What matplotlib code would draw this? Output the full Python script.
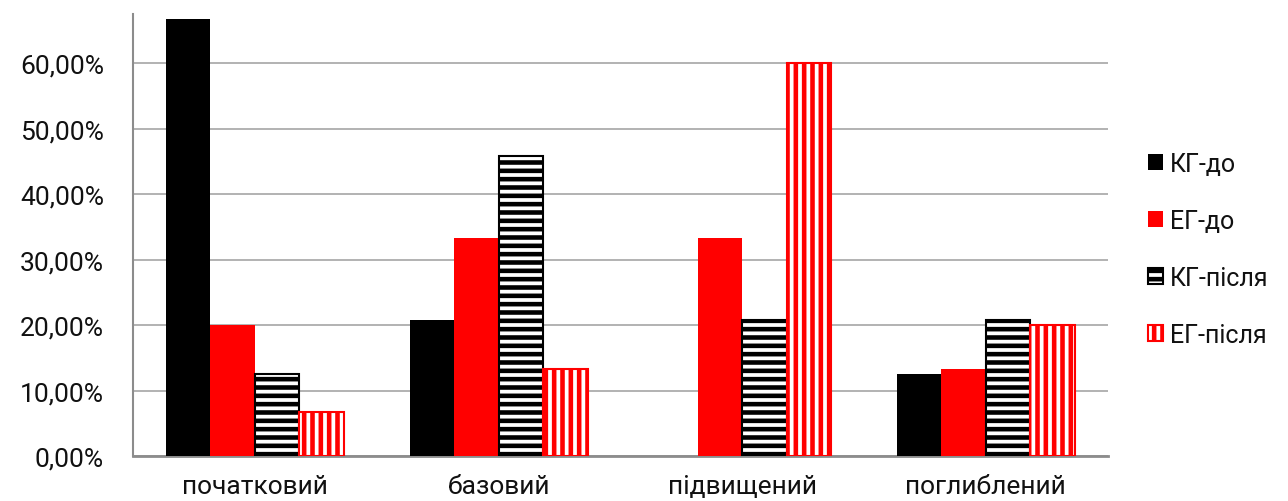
import matplotlib
matplotlib.use("Agg")
import matplotlib.pyplot as plt
import numpy as np

categories = ["початковий", "базовий", "підвищений", "поглиблений"]
series_names = ["КГ-до", "ЕГ-до", "КГ-після", "ЕГ-після"]
kg_before = [66.67, 20.83, 0.0, 12.50]
eg_before = [20.00, 33.33, 33.33, 13.33]
kg_after = [12.50, 45.83, 20.83, 20.83]
eg_after = [6.67, 13.33, 60.00, 20.00]
y_ticks = [0, 10, 20, 30, 40, 50, 60]

plt.rcParams["font.family"] = ["Roboto", "DejaVu Sans"]
plt.rcParams["hatch.linewidth"] = 3.3

fig = plt.figure(figsize=(12.88, 5.02), dpi=100)
ax = fig.add_axes([0.1033, 0.0896, 0.7567, 0.8804])

x = np.arange(len(categories))
w = 0.1826
styles = [
    dict(facecolor="black", edgecolor="black", hatch=None, linewidth=0),
    dict(facecolor="#ff0000", edgecolor="#ff0000", hatch=None, linewidth=0),
    dict(facecolor="white", edgecolor="black", hatch="--", linewidth=1.5),
    dict(facecolor="white", edgecolor="#ff0000", hatch="||", linewidth=1.5),
]
data = [kg_before, eg_before, kg_after, eg_after]
for i, (vals, st, name) in enumerate(zip(data, styles, series_names)):
    ax.bar(x + (i - 1.5) * w, vals, width=w, label=name, zorder=3, **st)

ax.set_xlim(-0.5, len(categories) - 0.5)
ax.set_ylim(0, 67.5)
ax.set_yticks(y_ticks)
ax.set_yticklabels([f"{v:.2f}%".replace(".", ",") for v in y_ticks])
ax.set_xticks(x)
ax.set_xticklabels(categories)
ax.tick_params(axis="y", length=0, pad=21, labelsize=19, labelcolor="#111111")
ax.tick_params(axis="x", length=0, pad=13, labelsize=19, labelcolor="#111111")
ax.grid(axis="y", color="#a6a6a6", linewidth=1.2, zorder=0)
for s in ["top", "right"]:
    ax.spines[s].set_visible(False)
ax.spines["left"].set_color("#8c8c8c")
ax.spines["left"].set_linewidth(1.5)
ax.spines["bottom"].set_color("#8c8c8c")
ax.spines["bottom"].set_linewidth(2)

leg = fig.legend(loc="center left", bbox_to_anchor=(0.891, 0.501), frameon=False,
                 fontsize=18, handlelength=0.6, handleheight=0.6,
                 handletextpad=0.3, labelspacing=1.32, borderpad=0,
                 borderaxespad=0)
for t in leg.get_texts():
    t.set_color("#111111")

fig.savefig("out.png", dpi=100)
